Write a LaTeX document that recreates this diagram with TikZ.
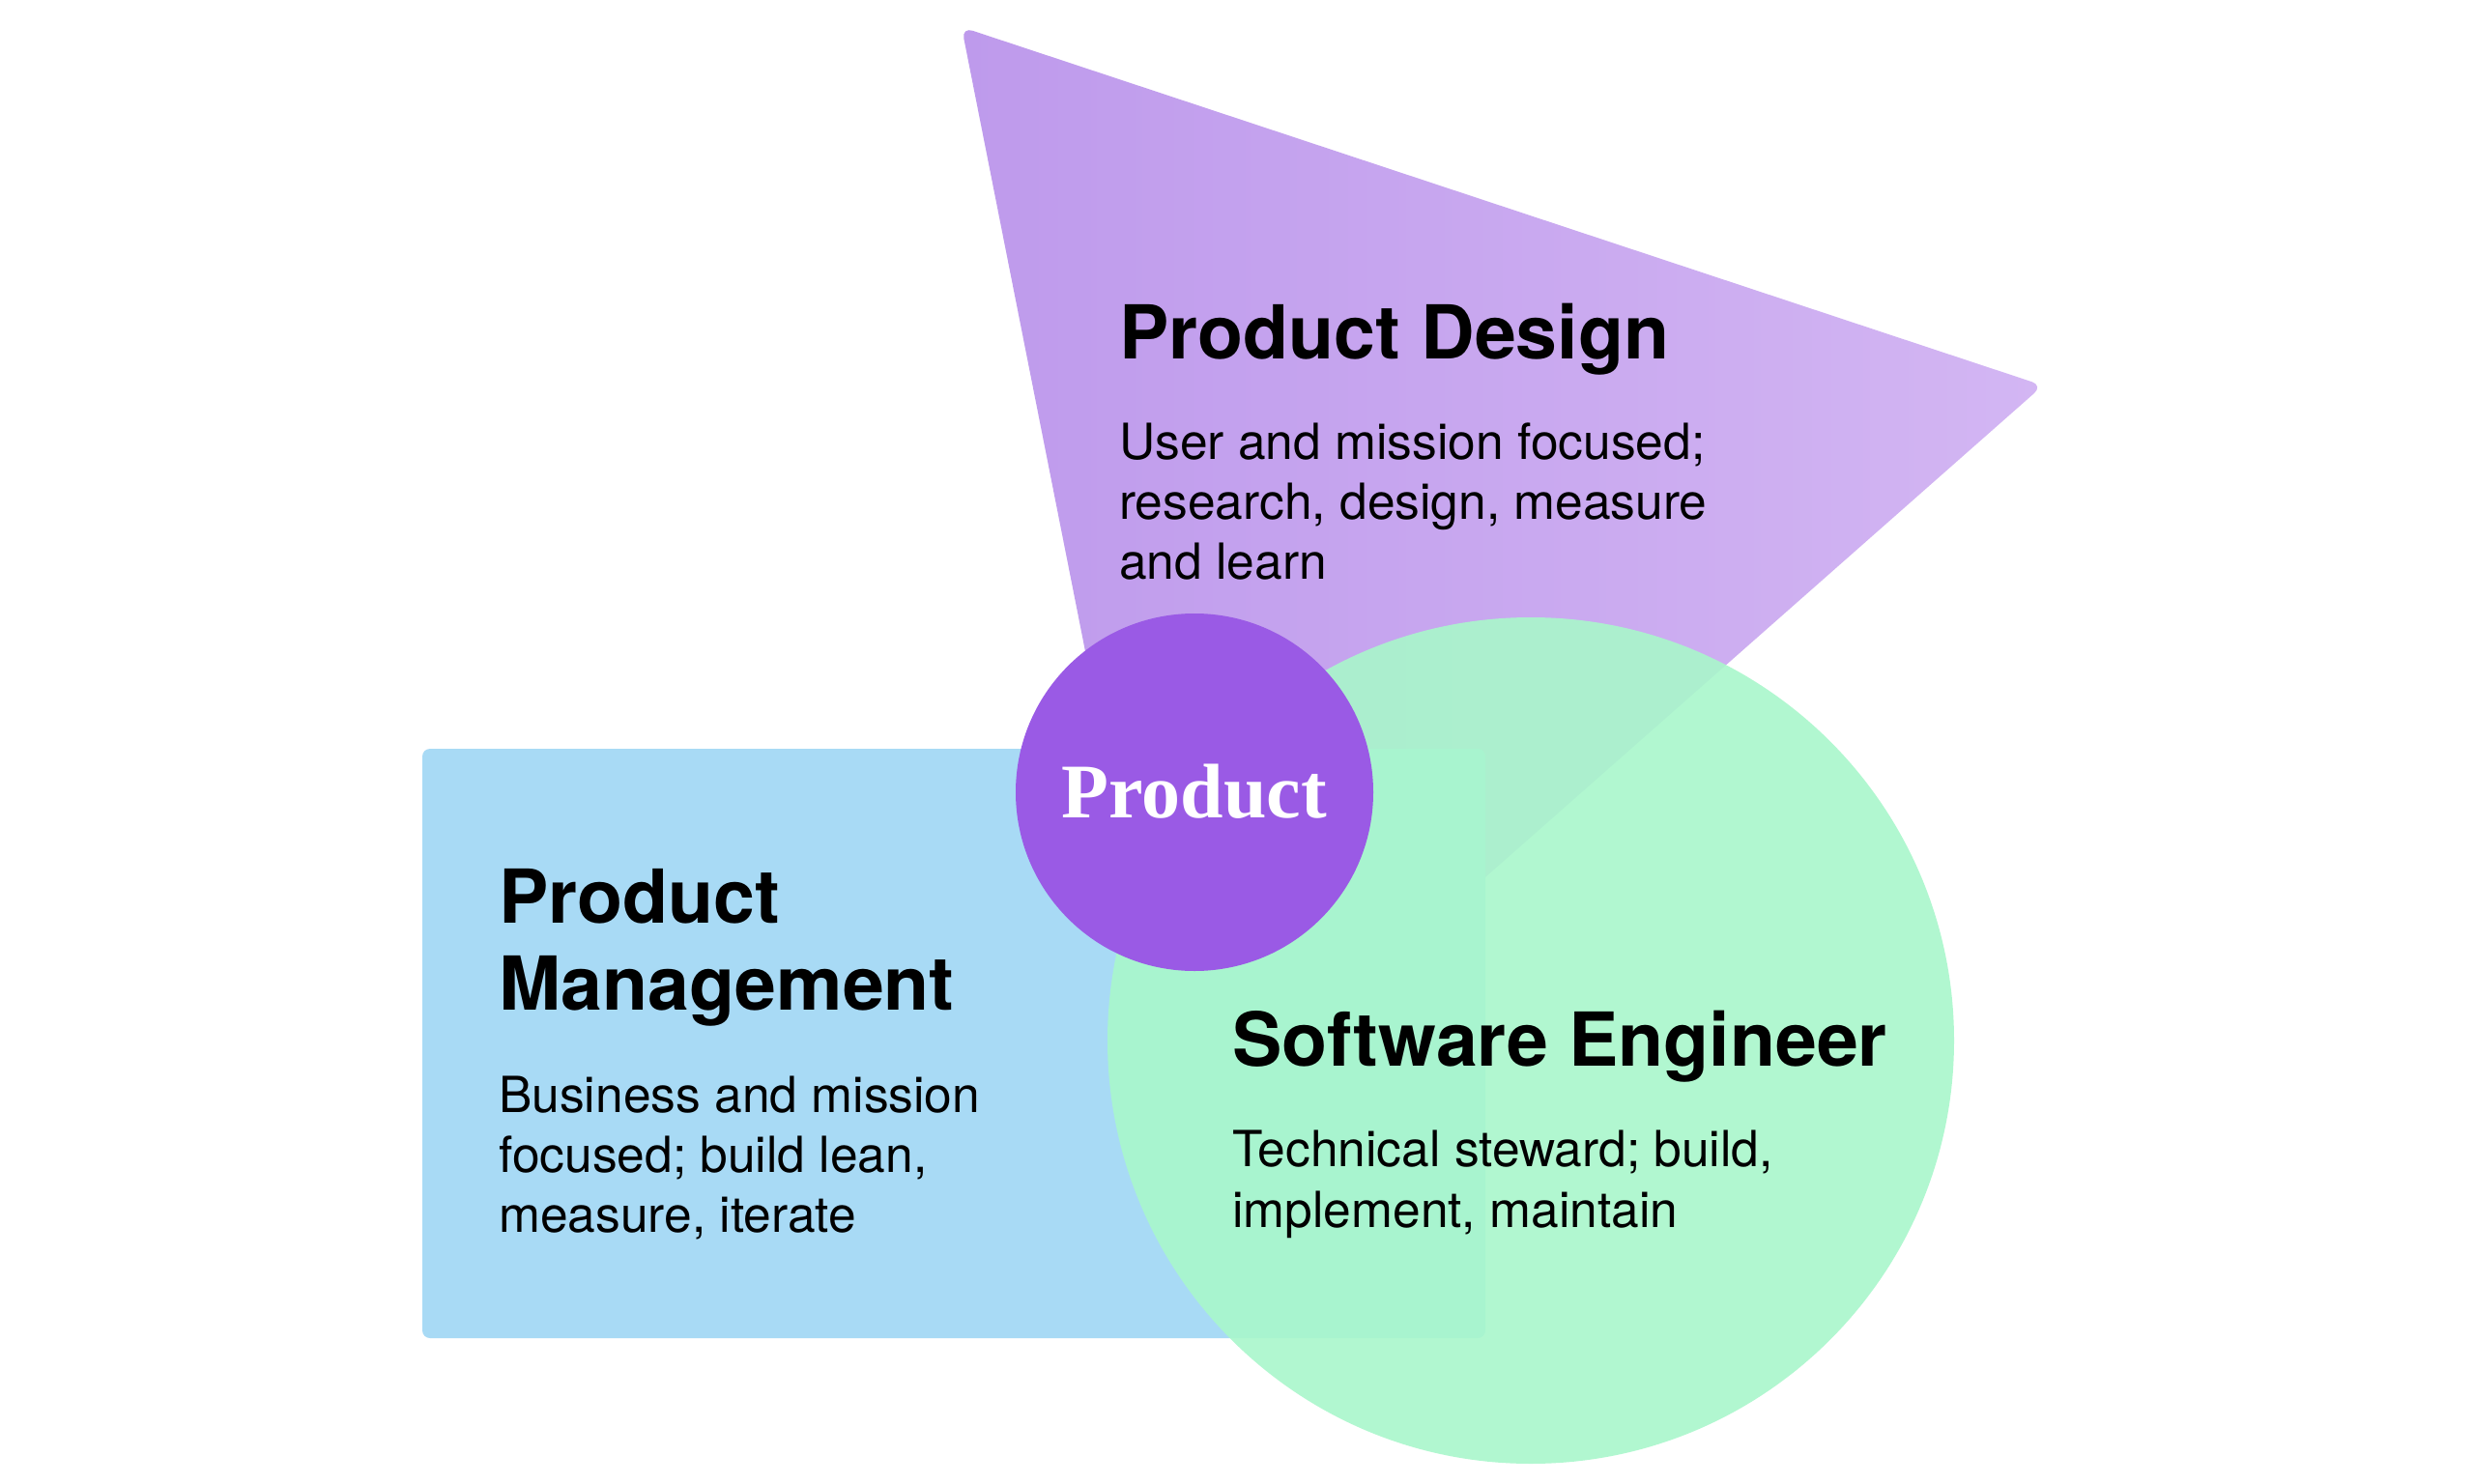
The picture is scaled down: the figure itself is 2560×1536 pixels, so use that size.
\documentclass[tikz,border=0pt]{standalone}
\usepackage{fontspec}
\setmainfont{TeX Gyre Heros}
\newfontfamily\labelserif{Liberation Serif}
\usetikzlibrary{calc}
\definecolor{tri1}{HTML}{BE9AEC}
\definecolor{tri2}{HTML}{D3B6F3}
\definecolor{pmblue}{HTML}{A8DAF5}
\definecolor{segreen}{HTML}{A9F7CB}
\definecolor{prodpurple}{HTML}{9A5AE5}
\tikzset{
  head/.style={anchor=base west, inner sep=0pt, font=\fontsize{77}{90}\selectfont\bfseries, text=black},
  bodytext/.style={anchor=base west, inner sep=0pt, font=\fontsize{51.5}{62}\selectfont, text=black},
}
\begin{document}
\begin{tikzpicture}[x=1pt,y=-1pt]
\useasboundingbox (0,0) rectangle (2560,1536);
\fill[white] (0,0) rectangle (2560,1536);
% triangle (Product Design)
\coordinate (t1) at (995,28);
\coordinate (t2) at (2114,399);
\coordinate (t3) at (1224,1184);
\shade[left color=tri1, right color=tri2, rounded corners=12pt]
  ($(t1)!0.5!(t2)$) -- (t2) -- (t3) -- (t1) -- cycle;
% rectangle (Product Management)
\fill[pmblue, rounded corners=8pt] (437,775) rectangle (1537,1385);
% circle (Software Engineer)
\fill[segreen, fill opacity=0.9] (1584,1077) circle[radius=438];
% centre circle
\fill[prodpurple] (1236,820) circle[radius=185];
% texts
\node[head] (pdh) at (1158,371) {Product Design};
\node[bodytext] (pd1) at (1158,475) {User and mission focused;};
\node[bodytext] (pd2) at (1158,537) {research, design, measure};
\node[bodytext] (pd3) at (1158,599) {and learn};
\node[head] (pmh1) at (516,955) {Product};
\node[head] (pmh2) at (516,1045) {Management};
\node[bodytext] (pm1) at (516,1151) {Business and mission};
\node[bodytext] (pm2) at (516,1213) {focused; build lean,};
\node[bodytext] (pm3) at (516,1275) {measure, iterate};
\node[head] (seh) at (1275,1103) {Software Engineer};
\node[bodytext] (se1) at (1275,1207) {Technical steward; build,};
\node[bodytext] (se2) at (1275,1270) {implement, maintain};
\node[anchor=base, inner sep=0pt, text=white, font=\labelserif\bfseries\fontsize{80}{90}\selectfont] (prod) at (1236,846) {Product};
\end{tikzpicture}
\end{document}
